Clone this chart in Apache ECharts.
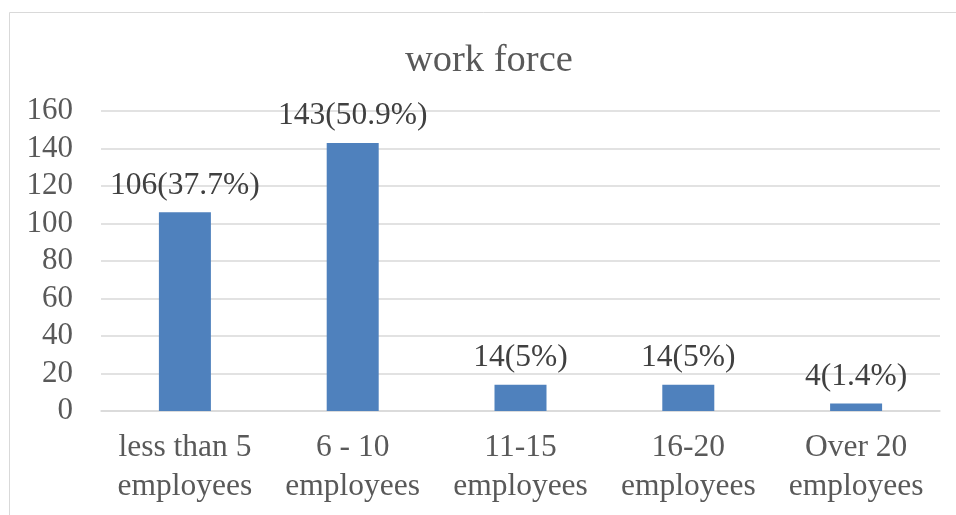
<!DOCTYPE html>
<html>
<head>
<meta charset="utf-8">
<script src="https://cdn.jsdelivr.net/npm/echarts@6/dist/echarts.min.js"></script>
<style>html,body{margin:0;padding:0;background:#fff}#c{width:956px;height:515px}</style>
</head>
<body>
<div id="c"></div>
<script>
var titleText = 'work force';
var categories = ['less than 5\nemployees', '6 - 10\nemployees', '11-15\nemployees', '16-20\nemployees', 'Over 20\nemployees'];
var values = [106, 143, 14, 14, 4];
var percents = ['37.7%', '50.9%', '5%', '5%', '1.4%'];
var yTicks = [0, 20, 40, 60, 80, 100, 120, 140, 160];

var font = '"Liberation Serif", "Times New Roman", serif';
var chart = echarts.init(document.getElementById('c'), null, {renderer: 'canvas'});
chart.setOption({
  animation: false,
  backgroundColor: '#fff',
  graphic: [{
    type: 'rect', shape: {x: 9.5, y: 12.5, width: 960, height: 520},
    style: {fill: 'none', stroke: '#d9d9d9', lineWidth: 1}, silent: true, z: -1
  }],
  title: {
    text: titleText, left: 400, top: 36,
    textStyle: {fontFamily: font, fontSize: 38.5, fontWeight: 'normal', color: '#595959'}
  },
  grid: {left: 101, right: 16, top: 111, bottom: 104, containLabel: false},
  xAxis: {
    type: 'category', data: categories,
    axisLine: {show: true, lineStyle: {color: '#d9d9d9', width: 1.5}},
    axisTick: {show: false},
    axisLabel: {fontFamily: font, fontSize: 31.5, color: '#595959', margin: 17, lineHeight: 39, interval: 0}
  },
  yAxis: {
    type: 'value', min: yTicks[0], max: yTicks[yTicks.length - 1], interval: 20,
    axisLine: {show: false}, axisTick: {show: false},
    splitLine: {lineStyle: {color: '#d9d9d9', width: 1.5}},
    axisLabel: {fontFamily: font, fontSize: 31, color: '#595959', margin: 28}
  },
  series: [{
    type: 'bar', data: values, barWidth: 52,
    itemStyle: {color: '#4f81bd'},
    label: {
      show: true, position: 'top', distance: 11,
      fontFamily: font, fontSize: 31.5, color: '#404040',
      formatter: function (p) { return p.value + '(' + percents[p.dataIndex] + ')'; }
    }
  }]
});
</script>
</body>
</html>
